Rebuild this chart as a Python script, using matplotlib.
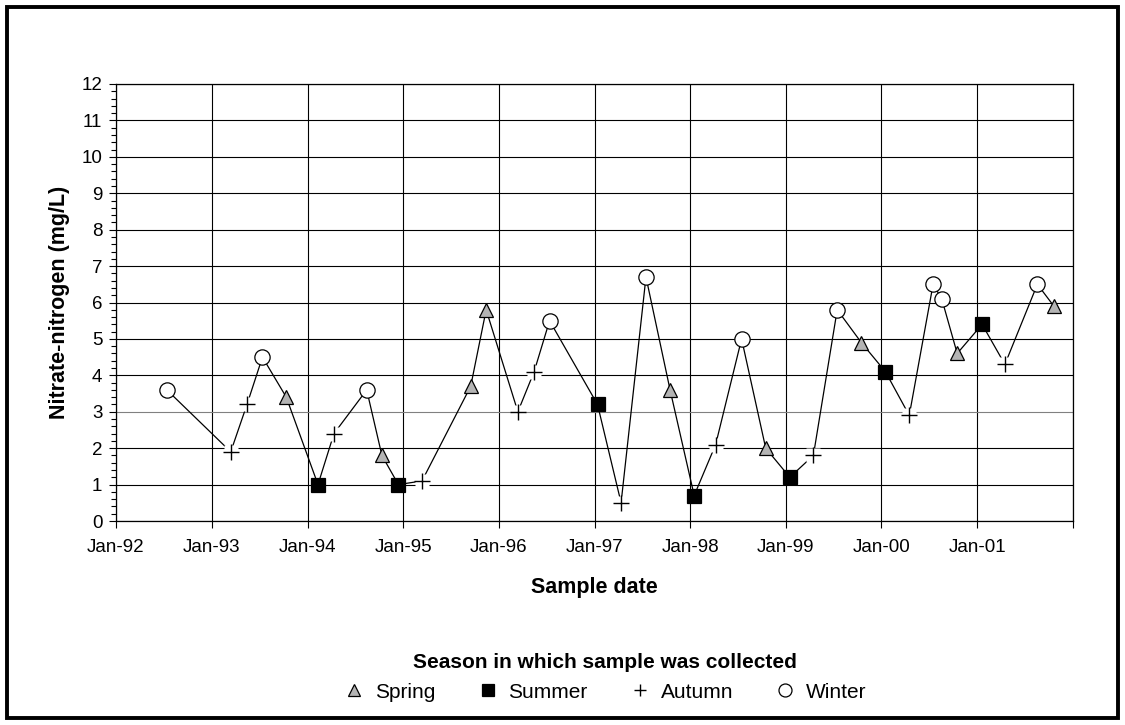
import numpy as np
import matplotlib
matplotlib.use("Agg")
import matplotlib.pyplot as plt
from matplotlib.lines import Line2D
from matplotlib.patches import Rectangle
import pandas as pd

plt.rcParams['font.family'] = ['Liberation Sans', 'DejaVu Sans']

# sample dates, nitrate values and season of each sample
datas = ["1992-07-13", "1993-03-14", "1993-05-15", "1993-07-13", "1993-10-12",
         "1994-02-10", "1994-04-12", "1994-08-15", "1994-10-12", "1994-12-14",
         "1995-03-14", "1995-09-16", "1995-11-14", "1996-03-14", "1996-05-15",
         "1996-07-13", "1997-01-12", "1997-04-12", "1997-07-16", "1997-10-16",
         "1998-01-16", "1998-04-08", "1998-07-16", "1998-10-16", "1999-01-16",
         "1999-04-16", "1999-07-16", "1999-10-16", "2000-01-16", "2000-04-16",
         "2000-07-16", "2000-08-18", "2000-10-16", "2001-01-19", "2001-04-16",
         "2001-08-18", "2001-10-20"]
nitrato = [3.6, 1.9, 3.2, 4.5, 3.4,
           1.0, 2.4, 3.6, 1.8, 1.0,
           1.1, 3.7, 5.8, 3.0, 4.1,
           5.5, 3.2, 0.5, 6.7, 3.6,
           0.7, 2.1, 5.0, 2.0, 1.2,
           1.8, 5.8, 4.9, 4.1, 2.9,
           6.5, 6.1, 4.6, 5.4, 4.3,
           6.5, 5.9]
estacao = ["Winter", "Autumn", "Autumn", "Winter", "Spring",
           "Summer", "Autumn", "Winter", "Spring", "Summer",
           "Autumn", "Spring", "Spring", "Autumn", "Autumn",
           "Winter", "Summer", "Autumn", "Winter", "Spring",
           "Summer", "Autumn", "Winter", "Spring", "Summer",
           "Autumn", "Winter", "Spring", "Summer", "Autumn",
           "Winter", "Winter", "Spring", "Summer", "Autumn",
           "Winter", "Spring"]

ordem_estacoes = ["Spring", "Summer", "Autumn", "Winter"]
estilos = {
    "Spring": dict(marker='^', markersize=10, markerfacecolor='#b4b4b4', markeredgecolor='black', markeredgewidth=0.9),
    "Summer": dict(marker='s', markersize=9.5, markerfacecolor='black', markeredgecolor='black', markeredgewidth=0.9),
    "Autumn": dict(marker='+', markersize=11, markerfacecolor='none', markeredgecolor='black', markeredgewidth=1.0),
    "Winter": dict(marker='o', markersize=11, markerfacecolor='white', markeredgecolor='black', markeredgewidth=0.9),
}

df = pd.DataFrame({"data": pd.to_datetime(datas), "valor": nitrato, "estacao": estacao})

fig = plt.figure(figsize=(11.25, 7.25), dpi=100)
ax = fig.add_axes([116 / 1125, 1 - 521 / 725, (1073 - 116) / 1125, (521 - 84) / 725])

# linha ligando as amostras
ax.plot(df["data"], df["valor"], color='black', lw=0.9, zorder=3)

for est in ordem_estacoes:
    sub = df[df["estacao"] == est]
    if est == "Autumn":
        # o "+" do Excel fica sobre um quadradinho branco
        ax.plot(sub["data"], sub["valor"], ls='none', marker='s', markersize=10,
                markerfacecolor='white', markeredgecolor='none', zorder=4)
    ax.plot(sub["data"], sub["valor"], ls='none', zorder=5, **estilos[est])

ax.set_xlim(pd.Timestamp("1992-01-01"), pd.Timestamp("2002-01-01"))
ax.set_ylim(0, 12)
anos = [pd.Timestamp(f"{a}-01-01") for a in range(1992, 2003)]
ax.set_xticks(anos)
ax.set_xticklabels([d.strftime("Jan-%y") for d in anos[:-1]] + [""])
ax.set_yticks(range(0, 13))
ax.set_yticks(np.arange(0, 12.01, 0.2), minor=True)

ax.grid(True, which='major', color='black', lw=0.8)
ax.get_ygridlines()[3].set_color('#808080')
ax.tick_params(axis='both', which='major', labelsize=13.5, direction='out', length=4.8, width=0.8)
ax.tick_params(axis='y', which='minor', direction='out', length=3.6, width=0.8)
ax.tick_params(axis='x', which='major', pad=8)
ax.tick_params(axis='y', which='major', pad=5)
for s in ax.spines.values():
    s.set_color('black')
    s.set_linewidth(0.9)

ax.set_xlabel("Sample date", fontsize=15.5, fontweight='bold', labelpad=15)
ax.set_ylabel("Nitrate-nitrogen (mg/L)", fontsize=15.5, fontweight='bold', labelpad=8)

# legenda: marcadores um pouco menores que no grafico
handles = []
for est in ordem_estacoes:
    st = dict(estilos[est])
    st["markersize"] = st["markersize"] * 0.85
    handles.append(Line2D([], [], ls='none', **st))
leg = fig.legend(handles, ordem_estacoes, loc='upper center', bbox_to_anchor=(0.538, 1 - 638 / 725),
                 ncol=4, frameon=False, fontsize=15, handlelength=1.0, handletextpad=0.5,
                 columnspacing=2.0, borderpad=0.2, title="Season in which sample was collected",
                 title_fontproperties={'weight': 'bold', 'size': 15})
leg._legend_box.sep = 8

fig.patches.append(Rectangle((7 / 1125, 7 / 725), 1 - 14 / 1125, 1 - 14 / 725,
                             transform=fig.transFigure, fill=False, ec='black', lw=2.8))

fig.savefig("out.png", dpi=100)
